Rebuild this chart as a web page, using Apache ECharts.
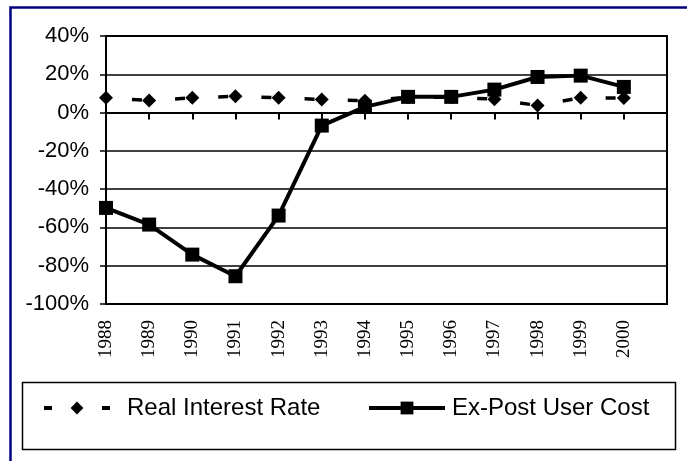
<!DOCTYPE html>
<html>
<head>
<meta charset="utf-8">
<title>Real Interest Rate and Ex-Post User Cost</title>
<script src="https://cdn.jsdelivr.net/npm/echarts@6/dist/echarts.min.js"></script>
<style>
  html, body { margin: 0; padding: 0; background: #fff; }
  #chart { width: 687px; height: 461px; }
</style>
</head>
<body>
<div id="chart"></div>
<script>
// Years on the horizontal axis (one empty slot after 2000 closes the plot)
const years = [1988, 1989, 1990, 1991, 1992, 1993, 1994, 1995, 1996, 1997, 1998, 1999, 2000];
// Values in percent
const realInterestRate = [7.7, 6.3, 7.7, 8.5, 7.7, 6.8, 6.2, 8.0, 8.0, 7.0, 3.7, 7.7, 7.6];
const exPostUserCost = [-49.8, -58.5, -74.2, -85.5, -53.8, -6.8, 3.0, 8.2, 8.2, 12.0, 18.6, 19.3, 13.4];
// Vertical axis ticks
const yTicks = { min: -100, max: 40, step: 20 };

const seriesNames = ['Real Interest Rate', 'Ex-Post User Cost'];

const chart = echarts.init(document.getElementById('chart'), null, { renderer: 'canvas' });

const pairs = (vals) => years.map((y, i) => [y, vals[i]]);

chart.setOption({
  animation: false,
  backgroundColor: '#fff',
  grid: {
    left: 106, right: 20, top: 36, bottom: 157,
    show: true, borderColor: '#000', borderWidth: 2, backgroundColor: 'transparent'
  },
  xAxis: [
    {
      // year labels along the bottom edge
      type: 'value', position: 'bottom',
      min: years[0], max: years[years.length - 1] + 1, interval: 1,
      axisLine: { show: false, onZero: false },
      axisTick: { show: false },
      splitLine: { show: false },
      axisLabel: {
        rotate: 90, margin: 16,
        fontFamily: '"Liberation Serif", "Times New Roman", serif',
        fontSize: 19, color: '#000',
        formatter: (v) => (v <= years[years.length - 1] ? String(v) : '')
      }
    },
    {
      // axis line crossing at 0% with downward ticks
      type: 'value', position: 'top',
      min: years[0], max: years[years.length - 1] + 1, interval: 1,
      axisLine: { show: true, onZero: true, lineStyle: { color: '#000', width: 2 } },
      axisTick: { show: true, inside: true, length: 7, lineStyle: { color: '#000', width: 2 } },
      axisLabel: { show: false },
      splitLine: { show: false }
    }
  ],
  yAxis: {
    type: 'value',
    min: yTicks.min, max: yTicks.max, interval: yTicks.step,
    axisLine: { show: true, lineStyle: { color: '#000', width: 2 } },
    axisTick: { show: true, length: 6, lineStyle: { color: '#000', width: 1.5 } },
    splitLine: { show: true, lineStyle: { color: '#000', width: 1.5 } },
    axisLabel: {
      margin: 17, color: '#000',
      fontFamily: '"Liberation Sans", Arial, sans-serif', fontSize: 22,
      formatter: (v) => v + '%'
    }
  },
  legend: [
    {
      data: [{
        name: seriesNames[0],
        lineStyle: { type: [8, 50], dashOffset: 0, width: 4 }
      }],
      left: 42, top: 396, padding: 0,
      itemWidth: 66, itemHeight: 16,
      textStyle: {
        color: '#000', fontFamily: '"Liberation Sans", Arial, sans-serif',
        fontSize: 24, padding: [0, 0, 0, 12]
      }
    },
    {
      data: [{
        name: seriesNames[1],
        lineStyle: { type: 'solid', width: 4 }
      }],
      left: 367, top: 396, padding: 0,
      itemWidth: 76, itemHeight: 16,
      textStyle: {
        color: '#000', fontFamily: '"Liberation Sans", Arial, sans-serif',
        fontSize: 24, padding: [0, 0, 0, 2]
      }
    }
  ],
  graphic: [
    {
      // outer frame, continues past the right and bottom edges
      type: 'rect', left: 8, top: 5, silent: true,
      shape: { x: 0, y: 0, width: 700, height: 500 },
      style: { fill: 'none', stroke: '#000080', lineWidth: 2.5 }
    },
    {
      // legend box
      type: 'rect', left: 20, top: 380, silent: true,
      shape: { x: 0, y: 0, width: 653, height: 67 },
      style: { fill: 'none', stroke: '#000', lineWidth: 1.5 }
    }
  ],
  series: [
    {
      name: seriesNames[0], type: 'line', xAxisIndex: 0,
      data: pairs(realInterestRate),
      symbol: 'diamond', symbolSize: 14,
      itemStyle: { color: '#000' },
      lineStyle: { color: '#000', width: 3.5, type: [10, 33.2], dashOffset: 17.2 },
      z: 3
    },
    {
      name: seriesNames[1], type: 'line', xAxisIndex: 0,
      data: pairs(exPostUserCost),
      symbol: 'rect', symbolSize: 14,
      itemStyle: { color: '#000' },
      lineStyle: { color: '#000', width: 4 },
      z: 2
    }
  ]
});
</script>
</body>
</html>
